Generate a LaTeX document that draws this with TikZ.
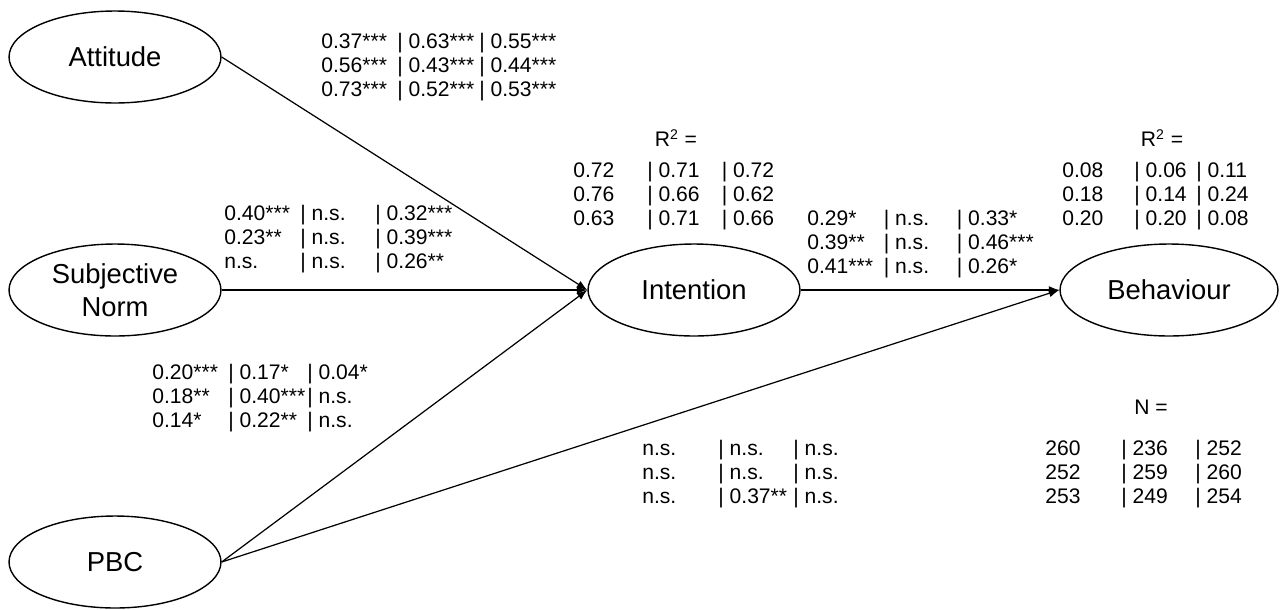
\documentclass[tikz,border=0pt]{standalone}
\usepackage{fontspec}
\setmainfont{Liberation Sans}
\usetikzlibrary{shapes.geometric,arrows.meta}
\newenvironment{coefs}[2]{\begin{tabular}[t]{@{}p{#1}@{}p{#2}@{}l@{}}}{\end{tabular}}

\begin{document}
\begin{tikzpicture}[x=0.02cm, y=-0.02cm,
  construct/.style={draw, ellipse, line width=0.8pt, minimum width=4.24cm, minimum height=1.84cm, inner sep=0pt, align=center, font=\fontsize{15.6}{18.8}\selectfont},
  link/.style={-{Latex[length=6pt,width=4.5pt]}, line width=0.7pt},
  coef/.style={anchor=base west, inner sep=0pt, font=\fontsize{12}{13.9}\selectfont},
  rsq/.style={inner sep=0pt, font=\fontsize{12}{13.9}\selectfont}]
\useasboundingbox (0,0) rectangle (1280,609);

% Constructs of the model
\node[construct] (att) at (115,57) {Attitude};
\node[construct] (sn) at (115,290) {Subjective\\Norm};
\node[construct] (pbc) at (115,562) {PBC};
\node[construct] (int) at (694,290) {Intention};
\node[construct, minimum width=4.36cm] (beh) at (1169,290) {Behaviour};

% Paths
\draw[link] (att.east) -- (int.west);
\draw[link] (sn.east) -- (int.west);
\draw[link] (pbc.east) -- (int.west);
\draw[link] (int.east) -- (beh.west);
\draw[link] (pbc.east) -- (beh.west);

% Path coefficients
\node[coef] (attc) at (321,48) {\begin{coefs}{1.52cm}{1.64cm}
0.37*** & | 0.63*** & | 0.55***\\
0.56*** & | 0.43*** & | 0.44***\\
0.73*** & | 0.52*** & | 0.53***\end{coefs}};
\node[coef] (snc) at (224,220) {\begin{coefs}{1.52cm}{1.50cm}
0.40*** & | n.s. & | 0.32***\\
0.23** & | n.s. & | 0.39***\\
n.s. & | n.s. & | 0.26**\end{coefs}};
\node[coef] (pbcc) at (152,379) {\begin{coefs}{1.52cm}{1.58cm}
0.20*** & | 0.17* & | 0.04*\\
0.18** & | 0.40***& | n.s.\\
0.14* & | 0.22**& | n.s.\end{coefs}};
\node[coef] (intc) at (807,225) {\begin{coefs}{1.53cm}{1.46cm}
0.29* & | n.s. & | 0.33*\\
0.39** & | n.s. & | 0.46***\\
0.41*** & | n.s. & | 0.26*\end{coefs}};
\node[coef] (pbcbc) at (642,455) {\begin{coefs}{1.52cm}{1.50cm}
n.s. & | n.s. & | n.s.\\
n.s. & | n.s. & | n.s.\\
n.s. & | 0.37** & | n.s.\end{coefs}};

% Explained variance and sample sizes
\node[rsq] (intr) at (676,138) {R\textsuperscript{2} =};
\node[coef] (intrv) at (573,177) {\begin{coefs}{1.48cm}{1.49cm}
0.72 & | 0.71 & | 0.72\\
0.76 & | 0.66 & | 0.62\\
0.63 & | 0.71 & | 0.66\end{coefs}};
\node[rsq] (behr) at (1162,138) {R\textsuperscript{2} =};
\node[coef] (behrv) at (1062,177) {\begin{coefs}{1.44cm}{1.24cm}
0.08 & | 0.06 & | 0.11\\
0.18 & | 0.14 & | 0.24\\
0.20 & | 0.20 & | 0.08\end{coefs}};
\node[rsq] (nlab) at (1151,407) {N =};
\node[coef] (nval) at (1045,455) {\begin{coefs}{1.52cm}{1.48cm}
260 & | 236 & | 252\\
252 & | 259 & | 260\\
253 & | 249 & | 254\end{coefs}};
\end{tikzpicture}
\end{document}
